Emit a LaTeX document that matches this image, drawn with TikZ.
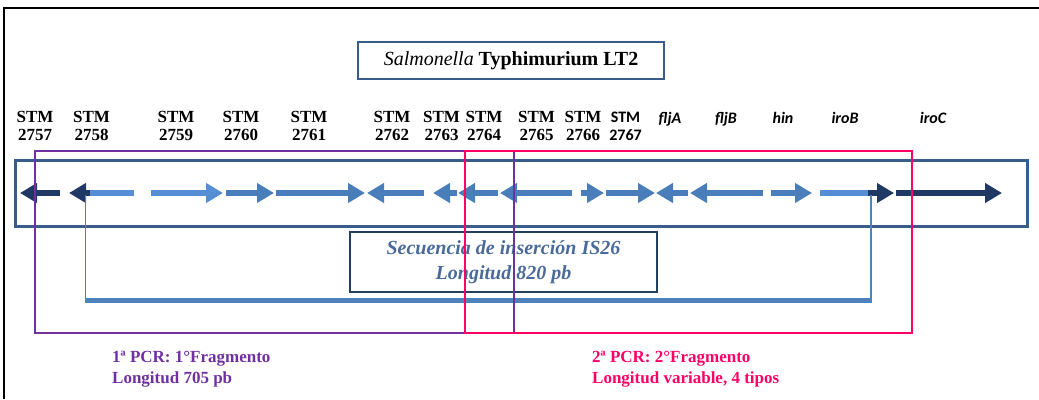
\documentclass[tikz,border=0pt]{standalone}
\usepackage{fontspec}
\setmainfont{Liberation Serif}
\newfontfamily\calibri{Carlito}
\usetikzlibrary{arrows.meta}

\definecolor{navyarrow}{HTML}{1F3864}
\definecolor{lightarrow}{HTML}{558ED5}
\definecolor{midarrow}{HTML}{4A7EBB}
\definecolor{framebl}{HTML}{385D8A}
\definecolor{isbox}{HTML}{243F60}
\definecolor{istext}{HTML}{4A6A9A}
\definecolor{isbar}{HTML}{4F81BD}
\definecolor{pcrone}{HTML}{7030A0}
\definecolor{pcrtwo}{HTML}{FF0066}

\tikzset{
  gene/.style={line width=6pt, -{Triangle[length=17pt,width=19pt]}},
  shaft/.style={line width=6pt},
  stm/.style={font=\fontsize{17}{18}\selectfont\bfseries, align=center, anchor=north, inner sep=0pt},
  gname/.style={font=\calibri\fontsize{16}{18}\selectfont\bfseries\itshape, anchor=base, inner sep=0pt},
  pcrbox/.style={line width=2.5pt},
  pcrlabel/.style={font=\fontsize{17}{21}\selectfont\bfseries, align=left, anchor=north west, inner sep=0pt},
}

\begin{document}
\begin{tikzpicture}[x=1pt, y=-1pt]
  \useasboundingbox (0,0) rectangle (1039,399);

  % outer frame
  \draw[line width=2pt] (4,399) -- (4,8) -- (1039,8);

  % title
  \node[draw=framebl, line width=1.5pt, minimum width=306pt, minimum height=37pt,
        font=\fontsize{20}{22}\selectfont] (title) at (511,60.5)
        {\textit{Salmonella} \textbf{Typhimurium LT2}};

  % gene names
  \foreach \x/\n in {35/2757, 91.5/2758, 176/2759, 241/2760, 309/2761,
                     392/2762, 441.5/2763, 484/2764, 536.5/2765, 583/2766}
    \node[stm] (stm\n) at (\x,111) {STM\\\n};
  \node[stm, font=\calibri\fontsize{16}{18}\selectfont\bfseries] (stm2767) at (625.5,112) {STM\\2767};
  \foreach \x/\n in {670/fljA, 726/fljB, 783/hin, 845/iroB, 933/iroC}
    \node[gname] (\n) at (\x,123) {\n};

  % gene box
  \draw[framebl, line width=3pt] (15,160) rectangle (1027,226);

  % genes
  \foreach \a/\b/\c in {60/20/navyarrow, 151/223/lightarrow,
                        226/274/midarrow, 276/365/midarrow, 424/367/midarrow,
                        457/433/midarrow, 498/458/midarrow, 572/500/midarrow,
                        581/604/midarrow, 606/655/midarrow, 688/656/midarrow,
                        763/690/midarrow, 771/812/midarrow, 896/1002/navyarrow}
    \draw[gene, \c] (\a,193) -- (\b,193);
  \draw[shaft, lightarrow] (134,193) -- (84,193);
  \draw[shaft, lightarrow] (820,193) -- (873,193);
  \draw[gene, navyarrow] (90,193) -- (69,193);
  \draw[gene, navyarrow] (868,193) -- (894,193);

  % IS26
  \coordinate (isl) at (85.5,195);
  \coordinate (isr) at (871,195);
  \draw[isbar, line width=1.2pt] (isl) -- (isl |- 0,300);
  \draw[isbar, line width=1.2pt] (isr) -- (isr |- 0,300);
  \draw[isbar, line width=5pt] (85,300.5) -- (872,300.5);
  \node[draw=isbox, line width=1.5pt, minimum width=307pt, minimum height=60pt,
        text=istext, align=center, font=\fontsize{20}{25}\selectfont\bfseries\itshape]
        (is26) at (503.5,262) {Secuencia de inserción IS26\\Longitud 820 pb};

  % PCR fragments
  \draw[pcrbox, pcrone] (35,151) rectangle (514,333);
  \draw[pcrbox, pcrtwo] (465,151) rectangle (912,333);
  \node[pcrlabel, text=pcrone] (pcr1) at (112,351) {1ª PCR: 1°Fragmento\\Longitud 705 pb};
  \node[pcrlabel, text=pcrtwo] (pcr2) at (592,351) {2ª PCR: 2°Fragmento\\Longitud variable, 4 tipos};
\end{tikzpicture}
\end{document}
